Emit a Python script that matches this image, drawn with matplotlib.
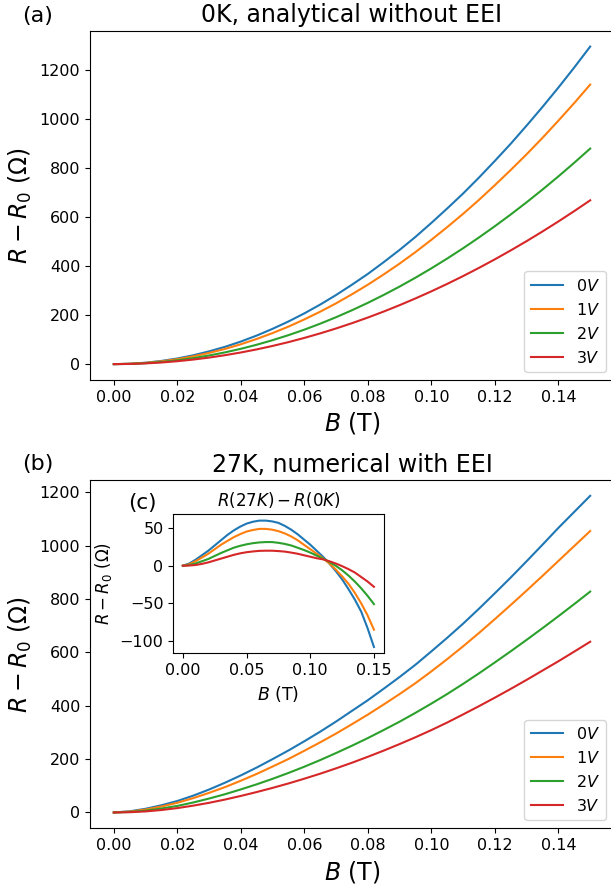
import matplotlib
matplotlib.use('Agg')
import matplotlib.pyplot as plt

# magnetic field (T)
field = [0.000, 0.005, 0.010, 0.015, 0.020, 0.025, 0.030, 0.035,
         0.040, 0.045, 0.050, 0.055, 0.060, 0.065, 0.070, 0.075,
         0.080, 0.085, 0.090, 0.095, 0.100, 0.105, 0.110, 0.115,
         0.120, 0.125, 0.130, 0.135, 0.140, 0.145, 0.150]
gates = ['$0V$', '$1V$', '$2V$', '$3V$']

# (a) 0K, analytical without EEI
r0k_0v = [0, 1.4, 5.8, 13, 23, 36, 52, 70.5, 92, 116.5, 144, 174, 207, 243, 282, 324,
          368, 416, 466, 519, 576, 635, 696, 761, 829, 899, 973, 1049, 1128, 1210, 1295]
r0k_1v = [0, 1.3, 5.1, 11.4, 20.3, 31.7, 45.6, 62, 81, 102.6, 126.7, 153, 182.4, 214, 248, 285,
          324, 366, 410, 457, 507, 559, 613, 670, 730, 792, 856, 923, 993, 1065, 1140]
r0k_2v = [0, 1, 3.9, 8.8, 15.6, 24.4, 35.2, 47.9, 62.5, 79.1, 97.7, 118.2, 140.6, 165, 191.4, 219.8,
          250, 282.3, 316.4, 352.6, 390.7, 430.7, 472.7, 516.7, 562.6, 610.4, 660.2, 712, 765.7, 821.4, 879]
r0k_3v = [0, 0.7, 3, 6.7, 11.9, 18.6, 26.7, 36.4, 47.5, 60.1, 74.2, 89.8, 106.9, 125.4, 145.5, 167,
          190, 214.5, 240.5, 268, 296.9, 327.3, 359.2, 392.6, 427.5, 463.9, 501.7, 541.1, 581.9, 624.2, 668]

# (b) 27K, numerical with EEI
r27k_0v = [0, 4.4, 13.8, 27, 43, 63, 86, 111.5, 139, 168.5, 200, 232.5, 267, 303, 341, 381,
           421, 464, 508, 554, 604, 655, 708, 764, 822, 881, 942, 1004, 1067, 1127, 1187]
r27k_1v = [0, 3.3, 11.1, 22.4, 36.3, 53.7, 73.6, 95, 119, 144.6, 172.2, 200.5, 231.4, 263, 296, 331,
           367, 405, 444, 485, 529, 575, 623, 673, 725, 778, 832, 887, 943, 999, 1055]
r27k_2v = [0, 2, 6.9, 14.8, 24.6, 37.4, 52.2, 68.4, 86.5, 105.6, 126.2, 148.2, 171.6, 196.5, 222.9, 250.3,
           279, 309.3, 340.4, 373.6, 408.2, 444.2, 482.2, 521.7, 562.6, 604.4, 647.2, 691, 735.7, 781.4, 828]
r27k_3v = [0, 1, 4, 9.2, 16.4, 25.6, 36.2, 48.4, 62, 76.6, 92.2, 108.8, 126.7, 145.4, 165.5, 186.5,
           208.8, 232, 256.5, 282, 308.9, 337.3, 367.7, 398.6, 430.5, 463.4, 497.2, 532.1, 566.9, 603.2, 640]

# (c) R(27K) - R(0K)
diff_0v = [0, 3, 8, 14, 20, 27, 34, 41, 47, 52, 56, 58.5, 60, 60, 59, 57,
           53, 48, 42, 35, 28, 20, 12, 3, -7, -18, -31, -45, -61, -83, -108]
diff_1v = [0, 2, 6, 11, 16, 22, 28, 33, 38, 42, 45.5, 47.5, 49, 49, 48, 46,
           43, 39, 34, 28, 22, 16, 10, 3, -5, -14, -24, -36, -50, -66, -85]
diff_2v = [0, 1, 3, 6, 9, 13, 17, 20.5, 24, 26.5, 28.5, 30, 31, 31.5, 31.5, 30.5,
           29, 27, 24, 21, 17.5, 13.5, 9.5, 5, 0, -6, -13, -21, -30, -40, -51]
diff_3v = [0, 0.3, 1, 2.5, 4.5, 7, 9.5, 12, 14.5, 16.5, 18, 19, 19.8, 20, 20, 19.5,
           18.8, 17.5, 16, 14, 12, 10, 8.5, 6, 3, -0.5, -4.5, -9, -15, -21, -28]

W, H = 611, 886
fig = plt.figure(figsize=(W / 100, H / 100), dpi=100)


def box(left, top, right, bottom):
    return [left / W, 1 - bottom / H, (right - left) / W, (bottom - top) / H]


def panel(ax, curves, title):
    for y, lab in zip(curves, gates):
        ax.plot(field, y, label=lab, lw=1.5)
    ax.set_title(title, fontsize=17)
    ax.set_xlabel('$B$ (T)', fontsize=17)
    ax.set_ylabel(r'$R-R_0$ ($\Omega$)', fontsize=17)
    ax.tick_params(labelsize=11.5)
    ax.set_xticks([0.00, 0.02, 0.04, 0.06, 0.08, 0.10, 0.12, 0.14])
    ax.set_xlim(-0.0075, 0.1575)
    ax.legend(loc='lower right', fontsize=11.5)


ax1 = fig.add_axes(box(90, 30.7, 614, 380))
panel(ax1, [r0k_0v, r0k_1v, r0k_2v, r0k_3v], '0K, analytical without EEI')

ax2 = fig.add_axes(box(90, 480, 614, 828.3))
panel(ax2, [r27k_0v, r27k_1v, r27k_2v, r27k_3v], '27K, numerical with EEI')

ins = fig.add_axes(box(173.3, 514.3, 383.5, 653.3))
for y in [diff_0v, diff_1v, diff_2v, diff_3v]:
    ins.plot(field, y, lw=1.5)
ins.set_title('$R(27K)-R(0K)$', fontsize=12)
ins.set_xlabel('$B$ (T)', fontsize=12.5)
ins.set_ylabel(r'$R-R_0$ ($\Omega$)', fontsize=12)
ins.set_xticks([0.00, 0.05, 0.10, 0.15])
ins.set_yticks([50, 0, -50, -100])
ins.tick_params(labelsize=11.5)

fig.text(22 / W, 1 - 16 / H, '(a)', fontsize=16, va='center', ha='left')
fig.text(22 / W, 1 - 464 / H, '(b)', fontsize=16, va='center', ha='left')
fig.text(128 / W, 1 - 503 / H, '(c)', fontsize=15.5, va='center', ha='left')

fig.savefig('out.png', dpi=100)
